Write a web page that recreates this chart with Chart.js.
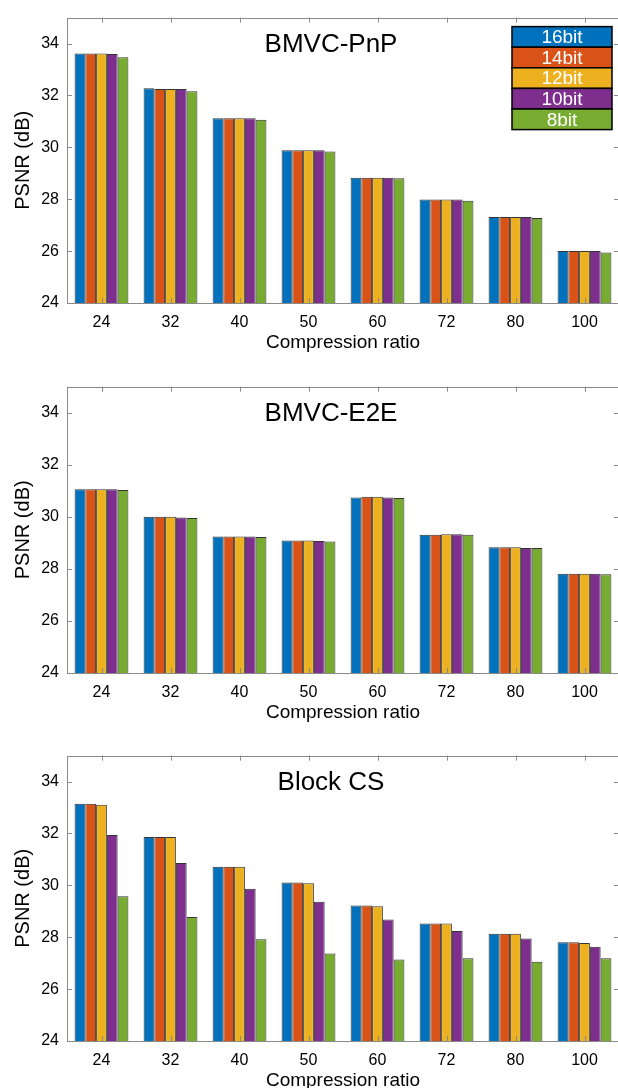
<!DOCTYPE html>
<html>
<head>
<meta charset="utf-8">
<script src="https://cdn.jsdelivr.net/npm/chart.js@4/dist/chart.umd.min.js"></script>
<style>
  html, body { margin: 0; padding: 0; background: #fff; overflow: hidden; width: 618px; height: 1088px; }
  canvas { position: absolute; left: 0; }
</style>
</head>
<body>
<canvas id="pnp" width="640" height="360" style="top:0px"></canvas>
<canvas id="e2e" width="640" height="361" style="top:369px"></canvas>
<canvas id="bcs" width="640" height="360" style="top:738px"></canvas>
<script>
const ratios = ['24', '32', '40', '50', '60', '72', '80', '100']
const bitDepths = ['16bit', '14bit', '12bit', '10bit', '8bit']
const barColors = ['#0072BD', '#D95319', '#EDB120', '#7E2F8E', '#77AC30']
const yTicks = [24, 26, 28, 30, 32, 34]

// BMVC-PnP, one array per bit depth
const pnp16 = [33.62, 32.28, 31.12, 29.89, 28.83, 27.99, 27.31, 26.00]
const pnp14 = [33.62, 32.25, 31.12, 29.89, 28.83, 27.99, 27.31, 26.00]
const pnp12 = [33.62, 32.25, 31.12, 29.89, 28.83, 27.99, 27.31, 26.00]
const pnp10 = [33.60, 32.25, 31.12, 29.89, 28.83, 27.99, 27.31, 26.00]
const pnp8 = [33.47, 32.16, 31.06, 29.84, 28.81, 27.94, 27.28, 25.95]

// BMVC-E2E
const e2e16 = [31.06, 30.00, 29.24, 29.09, 30.74, 29.31, 28.83, 27.81]
const e2e14 = [31.06, 30.00, 29.24, 29.09, 30.77, 29.31, 28.83, 27.81]
const e2e12 = [31.06, 30.00, 29.24, 29.09, 30.77, 29.33, 28.83, 27.81]
const e2e10 = [31.06, 29.97, 29.24, 29.07, 30.74, 29.33, 28.80, 27.81]
const e2e8 = [31.03, 29.95, 29.22, 29.05, 30.72, 29.31, 28.80, 27.79]

// Block CS
const bcs16 = [33.14, 31.86, 30.72, 30.11, 29.22, 28.53, 28.13, 27.81]
const bcs14 = [33.14, 31.86, 30.72, 30.11, 29.22, 28.53, 28.13, 27.81]
const bcs12 = [33.11, 31.86, 30.72, 30.08, 29.19, 28.53, 28.13, 27.78]
const bcs10 = [31.94, 30.86, 29.87, 29.37, 28.68, 28.24, 27.95, 27.63]
const bcs8 = [29.58, 28.78, 27.92, 27.37, 27.14, 27.19, 27.05, 27.19]

const FONT = "'Liberation Sans', Arial, Helvetica, sans-serif"
const AXIS_COLOR = '#8a8a8a'
const TICK_LEN = 5

// box, inward ticks on all four sides, panel title and the filled legend
const panelDecor = {
  id: 'panelDecor',
  afterDatasetsDraw(chart, args, opts) {
    const {ctx, chartArea: area, scales} = chart
    const x = scales.x, y = scales.y
    ctx.save()
    ctx.strokeStyle = AXIS_COLOR
    ctx.lineWidth = 1
    ctx.beginPath()
    y.ticks.forEach(t => {
      const py = Math.round(y.getPixelForValue(t.value)) + 0.5
      ctx.moveTo(area.left, py); ctx.lineTo(area.left + TICK_LEN, py)
      ctx.moveTo(area.right, py); ctx.lineTo(area.right - TICK_LEN, py)
    })
    ratios.forEach((r, i) => {
      const px = Math.round(x.getPixelForValue(i)) + 0.5
      ctx.moveTo(px, area.bottom); ctx.lineTo(px, area.bottom - TICK_LEN)
      ctx.moveTo(px, area.top); ctx.lineTo(px, area.top + TICK_LEN)
    })
    ctx.stroke()
    ctx.strokeRect(Math.round(area.left) + 0.5, Math.round(area.top) + 0.5,
      Math.round(area.right - area.left), Math.round(area.bottom - area.top))

    ctx.fillStyle = '#000'
    ctx.font = '26px ' + FONT
    ctx.textAlign = 'center'
    ctx.textBaseline = 'middle'
    ctx.fillText(opts.text, area.left + 264, area.top + 27)

    if (opts.legend) {
      const lx = area.right - 107, ly = area.top + 9, lw = 100, rh = 20.6
      ctx.font = '19px ' + FONT
      chart.data.datasets.forEach((ds, i) => {
        ctx.fillStyle = ds.backgroundColor
        ctx.fillRect(lx, ly + i * rh, lw, rh)
        ctx.strokeStyle = '#000'
        ctx.lineWidth = 1.5
        ctx.strokeRect(lx, ly + i * rh, lw, rh)
        ctx.fillStyle = '#fff'
        ctx.fillText(ds.label, lx + lw / 2, ly + i * rh + rh / 2 + 1)
      })
    }
    ctx.restore()
  }
}

function makeChart(id, series, title, showLegend) {
  const ctx = document.getElementById(id).getContext('2d')
  return new Chart(ctx, {
    type: 'bar',
    data: {
      labels: ratios,
      datasets: series.map((values, i) => ({
        label: bitDepths[i],
        data: values,
        backgroundColor: barColors[i],
        borderColor: '#333',
        borderWidth: 1,
        borderSkipped: false,
        barPercentage: 1.0,
        categoryPercentage: 0.78
      }))
    },
    options: {
      responsive: false,
      animation: false,
      devicePixelRatio: 1,
      layout: {padding: {top: 14, right: 21, left: 0, bottom: 0}},
      plugins: {
        legend: {display: false},
        tooltip: {enabled: false},
        panelDecor: {text: title, legend: showLegend}
      },
      scales: {
        x: {
          grid: {display: false, drawTicks: false},
          border: {display: false},
          ticks: {color: '#000', font: {family: FONT, size: 16}, padding: 9.5, maxRotation: 0},
          title: {display: true, text: 'Compression ratio', color: '#000',
            font: {family: FONT, size: 19}, padding: {top: 0, bottom: 5.6}},
          afterFit: s => { s.height = 57 }
        },
        y: {
          min: 24,
          max: 35,
          grid: {display: false, drawTicks: false},
          border: {display: false},
          afterBuildTicks: s => { s.ticks = yTicks.map(v => ({value: v})) },
          ticks: {color: '#000', font: {family: FONT, size: 16}, padding: 8},
          title: {display: true, text: 'PSNR (dB)', color: '#000',
            font: {family: FONT, size: 20}, padding: {top: 11, bottom: 0}},
          afterFit: s => { s.width = 67 }
        }
      }
    },
    plugins: [panelDecor]
  })
}

makeChart('pnp', [pnp16, pnp14, pnp12, pnp10, pnp8], 'BMVC-PnP', true)
makeChart('e2e', [e2e16, e2e14, e2e12, e2e10, e2e8], 'BMVC-E2E', false)
makeChart('bcs', [bcs16, bcs14, bcs12, bcs10, bcs8], 'Block CS', false)
</script>
</body>
</html>
